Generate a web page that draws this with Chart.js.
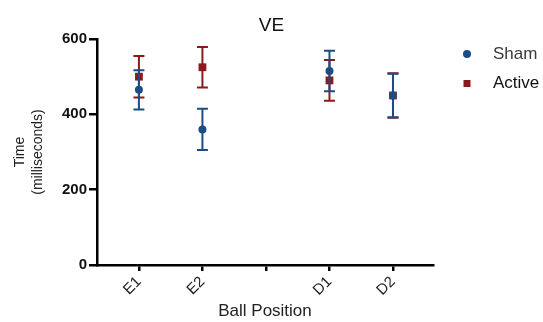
<!DOCTYPE html>
<html>
<head>
<meta charset="utf-8">
<script src="https://cdn.jsdelivr.net/npm/chart.js@4.4.0/dist/chart.umd.min.js"></script>
<style>
  html, body { margin: 0; padding: 0; background: #fff; }
  #wrap { width: 543px; height: 322px; }
</style>
</head>
<body>
<div id="wrap"><canvas id="chart"></canvas></div>
<script>
// values (mean and error bar half-length, ms)
const positions = ["E1", "E2", "", "D1", "D2"];
const shamMeans = [465, 360, null, 515, 450];
const shamErrors = [52, 55, null, 54, 58];
const activeMeans = [500, 525, null, 490, 450];
const activeErrors = [55, 54, null, 54, 59];
const yTicks = [0, 200, 400, 600];

const SHAM = "#1d4c85";
const ACTIVE = "#8b1a1c";
const FONT = "'Liberation Sans', Arial, sans-serif";

function toPoints(means, errs) {
  const pts = [];
  means.forEach((m, i) => {
    if (m != null) pts.push({ x: i, y: m, err: errs[i] });
  });
  return pts;
}

// error bars drawn before each dataset's markers so the marker sits on top
const errorBars = {
  id: "errorBars",
  beforeDatasetDraw(chart, args) {
    const ds = chart.data.datasets[args.index];
    const y = chart.scales.y;
    const ctx = chart.ctx;
    ctx.save();
    ctx.strokeStyle = ds.borderColor;
    ctx.lineWidth = 2;
    args.meta.data.forEach((el, i) => {
      const d = ds.data[i];
      const top = y.getPixelForValue(d.y + d.err);
      const bot = y.getPixelForValue(d.y - d.err);
      const x = el.x;
      ctx.beginPath();
      ctx.moveTo(x, top); ctx.lineTo(x, bot);
      ctx.moveTo(x - 5.5, top); ctx.lineTo(x + 5.5, top);
      ctx.moveTo(x - 5.5, bot); ctx.lineTo(x + 5.5, bot);
      ctx.stroke();
    });
    ctx.restore();
  }
};

// legend on the right, GraphPad style
const sideLegend = {
  id: "sideLegend",
  afterDraw(chart) {
    const ctx = chart.ctx;
    ctx.save();
    ctx.font = "17px " + FONT;
    ctx.textBaseline = "middle";
    ctx.textAlign = "left";
    chart.data.datasets.forEach((ds, i) => {
      const cy = 54 + i * 29.5;
      ctx.fillStyle = ds.backgroundColor;
      if (ds.pointStyle === "circle") {
        ctx.beginPath();
        ctx.arc(467, cy, 4, 0, Math.PI * 2);
        ctx.fill();
      } else {
        ctx.fillRect(463.5, cy - 3.5, 7, 7);
      }
      ctx.fillStyle = i === 0 ? "#3a3a3a" : "#111";
      ctx.fillText(ds.label, 493, cy);
    });
    ctx.restore();
  }
};

new Chart(document.getElementById("chart"), {
  type: "scatter",
  data: {
    datasets: [
      {
        label: "Sham",
        data: toPoints(shamMeans, shamErrors),
        pointStyle: "circle",
        pointRadius: 4,
        backgroundColor: SHAM,
        borderColor: SHAM,
        borderWidth: 0
      },
      {
        label: "Active",
        data: toPoints(activeMeans, activeErrors),
        pointStyle: "rect",
        pointRadius: 5.5,
        backgroundColor: ACTIVE,
        borderColor: ACTIVE,
        borderWidth: 0
      }
    ]
  },
  options: {
    responsive: true,
    maintainAspectRatio: false,
    animation: false,
    layout: { padding: 0 },
    plugins: {
      legend: { display: false },
      tooltip: { enabled: false },
      title: {
        display: true,
        text: "VE",
        color: "#111",
        font: { family: FONT, size: 19, weight: "normal" },
        padding: { top: 14.1, bottom: 2.1 }
      }
    },
    scales: {
      x: {
        type: "linear",
        min: -0.66,
        max: 4.63,
        afterBuildTicks: s => { s.ticks = positions.map((_, i) => ({ value: i })); },
        afterFit: s => { s.height = 57; },
        ticks: {
          callback: v => positions[v],
          minRotation: 45,
          maxRotation: 45,
          padding: 2,
          color: "#222",
          font: { family: FONT, size: 15 }
        },
        grid: { drawOnChartArea: false, drawTicks: true, tickLength: 6, color: "#000", lineWidth: 2.5 },
        border: { color: "#000", width: 2.5 },
        title: {
          display: true,
          text: "Ball Position",
          color: "#222",
          font: { family: FONT, size: 17 },
          padding: { top: 0, bottom: 0 }
        }
      },
      y: {
        min: 0,
        max: 600,
        afterBuildTicks: s => { s.ticks = yTicks.map(v => ({ value: v })); },
        afterFit: s => { s.width = 97; },
        ticks: {
          padding: 2,
          color: "#111",
          font: { family: FONT, size: 15, weight: "bold" }
        },
        grid: { drawOnChartArea: false, drawTicks: true, tickLength: 8, color: "#000", lineWidth: 2.5 },
        border: { color: "#000", width: 2.5 },
        title: {
          display: true,
          text: ["Time", "(milliseconds)"],
          color: "#222",
          font: { family: FONT, size: 14, lineHeight: 1.3 },
          padding: { top: 11, bottom: 0 }
        }
      },
      // empty space on the right that holds the legend
      legendSpace: {
        type: "linear",
        position: "right",
        display: true,
        afterFit: s => { s.width = 110; },
        ticks: { display: false },
        grid: { display: false },
        border: { display: false }
      }
    }
  },
  plugins: [errorBars, sideLegend]
});
</script>
</body>
</html>
